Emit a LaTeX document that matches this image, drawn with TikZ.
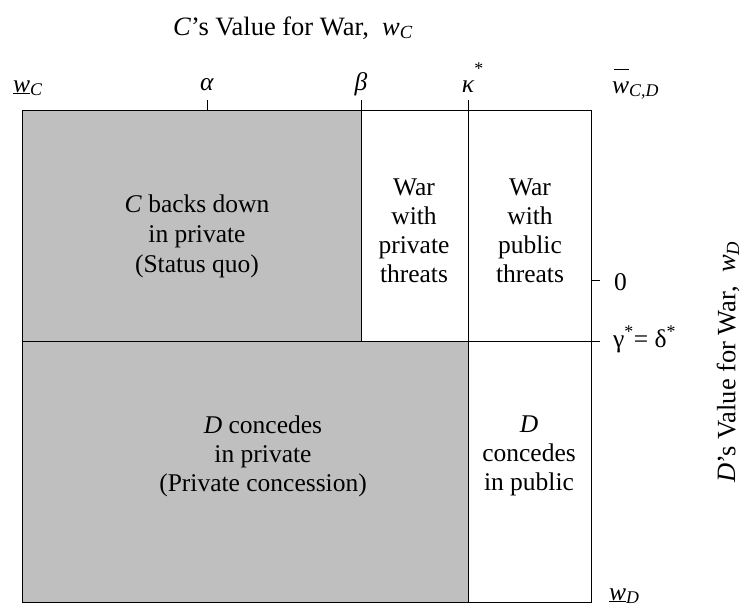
\documentclass[tikz,border=0pt]{standalone}
\usepackage{fontspec}
\setmainfont{Liberation Serif}
\newcommand{\wsub}[1]{\textit{w}\textsubscript{\itshape #1}}
\begin{document}
\begin{tikzpicture}[x=1pt,y=-1pt,
  frame/.style={line width=0.9pt},
  shadebox/.style={fill=black!25},
  celltext/.style={align=center,font=\fontsize{25.5}{30}\selectfont,inner sep=0pt},
  lowtext/.style={align=center,font=\fontsize{25.5}{29}\selectfont,inner sep=0pt},
  wartext/.style={align=center,font=\fontsize{25.5}{29}\selectfont,inner sep=0pt},
  axlab/.style={font=\fontsize{25.5}{30}\selectfont,inner sep=0pt},
  bigaxlab/.style={font=\fontsize{26.5}{30}\selectfont,inner sep=0pt}]
\useasboundingbox (0,0) rectangle (743,606);
% key points
\coordinate (tl) at (22,110);
\coordinate (br) at (591,602);
\coordinate (btop) at (361,100);
\coordinate (bmid) at (361,341);
\coordinate (ktop) at (468,100);
\coordinate (kbot) at (468,602);
\coordinate (ml) at (22,341);
\coordinate (mr) at (600,341);
\coordinate (atop) at (207,100);
\coordinate (abot) at (207,110);
\coordinate (zl) at (591,280);
\coordinate (zr) at (600,280);
% shaded regions
\fill[shadebox] (tl) rectangle (bmid);
\fill[shadebox] (ml) rectangle (kbot);
% frame and dividers
\draw[frame] (tl) rectangle (br);
\draw[frame] (btop) -- (bmid);
\draw[frame] (ktop) -- (kbot);
\draw[frame] (ml) -- (mr);
\draw[frame] (atop) -- (abot);
\draw[frame] (zl) -- (zr);
% cell texts
\node[celltext] (cback) at (197,236) {\textit{C} backs down\\in private\\(Status quo)};
\node[wartext] (wpriv) at (414,231) {War\\with\\private\\threats};
\node[wartext] (wpub) at (530,231) {War\\with\\public\\threats};
\node[lowtext] (dpriv) at (263,456) {\textit{D} concedes\\in private\\(Private concession)};
\node[lowtext] (dpub) at (529,456) {\textit{D}\\concedes\\in public};
% axis labels
\node[bigaxlab,anchor=base] (title) at (293,35) {\textit{C}’s Value for War,\ \ \wsub{C}};
\node[axlab,anchor=base west] (wcl) at (13,92) {\underline{\textit{w}}\textsubscript{\itshape C}};
\node[axlab,anchor=base] (alpha) at (207,90) {\textit{α}};
\node[axlab,anchor=base] (beta) at (361,90) {\textit{β}};
\node[axlab,anchor=base] (kappa) at (468,92) {\textit{κ}\rlap{\textsuperscript{\raisebox{0.45em}{*}}}};
\node[axlab,anchor=base west] (wcd) at (612,93) {\rlap{\hspace{0.06em}\raisebox{0.9em}{\rule{0.6em}{0.8pt}}}\textit{w}\textsubscript{\itshape C,D}};
\node[axlab,anchor=base west] (zero) at (614,290) {0};
\node[axlab,anchor=base west] (gd) at (613,347) {γ\textsuperscript{*}= δ\textsuperscript{*}};
\node[axlab,anchor=base west] (wdl) at (609,600) {\underline{\textit{w}}\textsubscript{\itshape D}};
\node[bigaxlab,rotate=90] (dlab) at (728,362) {\textit{D}’s Value for War,\ \ \wsub{D}};
\end{tikzpicture}
\end{document}
